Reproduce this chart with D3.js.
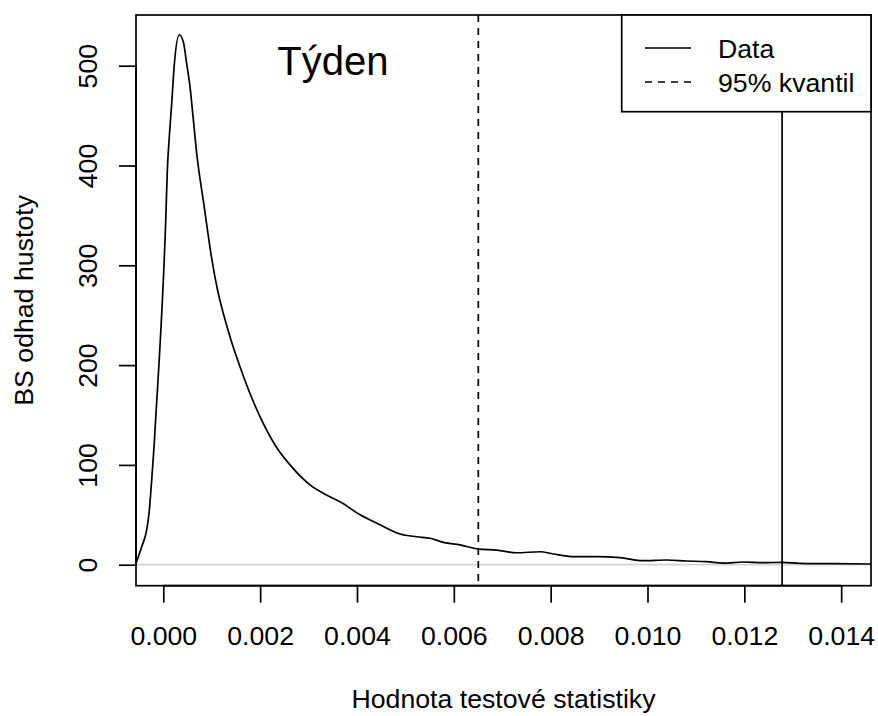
<!DOCTYPE html>
<html>
<head>
<meta charset="utf-8">
<script src="https://cdn.jsdelivr.net/npm/d3@7"></script>
<style>
  body { margin: 0; background: #fff; }
  text { font-family: "Liberation Sans", Arial, sans-serif; fill: #000; }
</style>
</head>
<body>
<div id="chart"></div>
<script>
// Bootstrap density estimate of the test statistic (weekly data)

// density curve
var densX = [-0.000564, -0.000446, -0.000343, -0.000295, -0.00024, -0.000192, -0.000151, -0.000109,
  0.00005, 0.000083, 0.000124, 0.000173, 0.000227, 0.00033, 0.000413, 0.000483, 0.000551,
  0.00062, 0.00069, 0.000772, 0.000826, 0.000913, 0.001006, 0.00113, 0.001233, 0.001377,
  0.001584, 0.001846, 0.001997, 0.002307, 0.002617, 0.00303, 0.003304, 0.003651, 0.004064,
  0.004477, 0.00489, 0.005233, 0.005508, 0.005783, 0.006128, 0.006506, 0.006886, 0.007299,
  0.00778, 0.008055, 0.008468, 0.008951, 0.009432, 0.009913, 0.010396, 0.01081, 0.011223,
  0.011565, 0.011978, 0.012392, 0.012778, 0.013149, 0.013837, 0.014616]
var densY = [1.4, 18, 34.8, 51.5, 84.9, 118, 151.7, 185,
  345, 395, 429, 462, 501, 531, 524, 502, 479,
  446, 412, 382, 365, 335, 305, 273, 253, 228.5,
  198.4, 165, 148.3, 120, 100, 80, 71.5, 63, 50,
  40, 30.8, 28, 26.5, 22.4, 19.8, 15.7, 14.7, 12,
  13, 10.7, 8, 8, 7, 4, 4.7, 3.7, 3,
  1.6, 2.7, 2, 2.4, 1.4, 1, 0.7]

// observed statistic and bootstrap 95% quantile
var dataValue = 0.01278
var quantile95 = 0.006506

var xTicks = [0, 0.002, 0.004, 0.006, 0.008, 0.010, 0.012, 0.014]
var yTicks = [0, 100, 200, 300, 400, 500]
var legendLabels = ["Data", "95% kvantil"]

var width = 878
var height = 716
// plot region (note: "top" is taken by window.top)
var pLeft = 136, pTop = 15, pRight = 871, pBottom = 585.7
var fs = 26.7

var svg = d3.select("#chart")
  .append("svg")
  .attr("width", width)
  .attr("height", height)

var x = d3.scaleLinear().domain([-0.000564, 0.014616]).range([pLeft, pRight])
var y = d3.scaleLinear().domain([-21.04, 550.8]).range([pBottom, pTop])

// zero line
svg.append("line")
  .attr("x1", pLeft).attr("x2", pRight)
  .attr("y1", y(0)).attr("y2", y(0))
  .attr("stroke", "#d4d4d4")
  .attr("stroke-width", 1.7)

// density
var pts = densX.map(function(d, i) { return [d, densY[i]] })
svg.append("path")
  .datum(pts)
  .attr("fill", "none")
  .attr("stroke", "#000")
  .attr("stroke-width", 1.7)
  .attr("d", d3.line()
    .x(function(d) { return x(d[0]) })
    .y(function(d) { return y(d[1]) })
    .curve(d3.curveMonotoneX))

// vertical lines
svg.append("line")
  .attr("x1", x(quantile95)).attr("x2", x(quantile95))
  .attr("y1", pTop).attr("y2", pBottom)
  .attr("stroke", "#000")
  .attr("stroke-width", 1.7)
  .attr("stroke-dasharray", "7,6")

svg.append("line")
  .attr("x1", x(dataValue)).attr("x2", x(dataValue))
  .attr("y1", pTop).attr("y2", pBottom)
  .attr("stroke", "#000")
  .attr("stroke-width", 1.7)

// axes
var xAxis = svg.append("g")
  .attr("transform", "translate(0," + pBottom + ")")
  .call(d3.axisBottom(x).tickValues(xTicks).tickSize(17).tickPadding(0)
    .tickFormat(d3.format(".3f")))
xAxis.select(".domain").attr("d", "M" + x(xTicks[0]) + ",0H" + x(xTicks[xTicks.length - 1]))
xAxis.selectAll("text").attr("y", 59).attr("dy", null)

var yAxis = svg.append("g")
  .attr("transform", "translate(" + pLeft + ",0)")
  .call(d3.axisLeft(y).tickValues(yTicks).tickSize(17).tickPadding(0))
yAxis.select(".domain").attr("d", "M0," + y(0) + "V" + y(500))
yAxis.selectAll("text")
  .attr("x", null).attr("dy", null)
  .attr("text-anchor", "middle")
  .attr("transform", "translate(-39,0) rotate(-90)")

svg.selectAll(".tick line, .domain").attr("stroke", "#000").attr("stroke-width", 1.7)
svg.selectAll(".tick text").style("font-size", fs + "px").attr("fill", "#000")
  .style("font-family", "'Liberation Sans', Arial, sans-serif")

// box
svg.append("rect")
  .attr("x", pLeft).attr("y", pTop)
  .attr("width", pRight - pLeft).attr("height", pBottom - pTop)
  .attr("fill", "none")
  .attr("stroke", "#000")
  .attr("stroke-width", 1.7)

// axis titles
svg.append("text")
  .attr("x", (pLeft + pRight) / 2).attr("y", 708)
  .attr("text-anchor", "middle")
  .style("font-size", fs + "px")
  .text("Hodnota testové statistiky")

svg.append("text")
  .attr("transform", "translate(33," + (pTop + pBottom) / 2 + ") rotate(-90)")
  .attr("text-anchor", "middle")
  .style("font-size", fs + "px")
  .text("BS odhad hustoty")

// title inside the plot
svg.append("text")
  .attr("x", 333).attr("y", 75)
  .attr("text-anchor", "middle")
  .style("font-size", (fs * 1.5) + "px")
  .text("Týden")

// legend
var lg = svg.append("g")
lg.append("rect")
  .attr("x", 621.7).attr("y", pTop)
  .attr("width", pRight - 621.7).attr("height", 111.7 - pTop)
  .attr("fill", "#fff")
  .attr("stroke", "#000")
  .attr("stroke-width", 1.7)

legendLabels.forEach(function(lab, i) {
  var cy = 48 + i * 34
  lg.append("line")
    .attr("x1", 645).attr("x2", 691)
    .attr("y1", cy).attr("y2", cy)
    .attr("stroke", "#000")
    .attr("stroke-width", 1.7)
    .attr("stroke-dasharray", i == 1 ? "7,6" : null)
  lg.append("text")
    .attr("x", 718).attr("y", cy + 9.5)
    .style("font-size", fs + "px")
    .text(lab)
})
</script>
</body>
</html>
